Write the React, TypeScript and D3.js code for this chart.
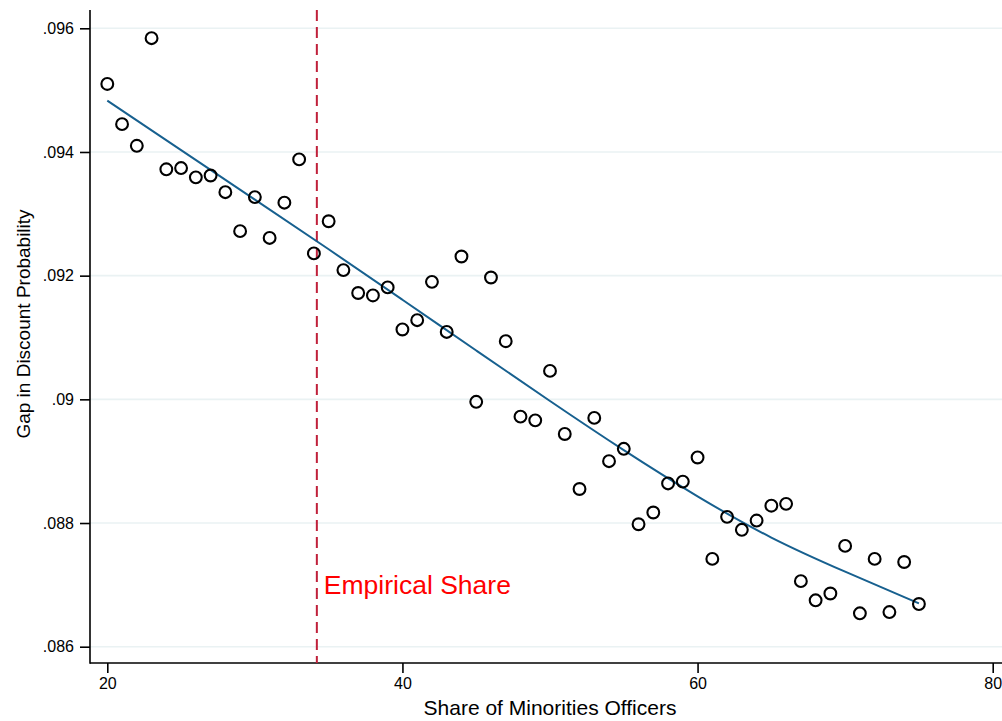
import React, { useEffect, useRef } from 'react';
import * as d3 from 'd3';

// share of minority officers (%)
const shares = [20, 21, 22, 23, 24, 25, 26, 27, 28, 29, 30, 31, 32, 33, 34, 35, 36, 37, 38, 39, 40, 41, 42, 43, 44, 45, 46, 47, 48, 49, 50, 51, 52, 53, 54, 55, 56, 57, 58, 59, 60, 61, 62, 63, 64, 65, 66, 67, 68, 69, 70, 71, 72, 73, 74, 75];
const gaps = [
  0.09510, 0.09445, 0.09410, 0.09584, 0.09372, 0.09374, 0.09359, 0.09362, 0.09335, 0.09272,
  0.09327, 0.09261, 0.09318, 0.09388, 0.09236, 0.09288, 0.09209, 0.09172, 0.09168, 0.09181,
  0.09113, 0.09128, 0.09190, 0.09109, 0.09231, 0.08996, 0.09197, 0.09094, 0.08972, 0.08966,
  0.09046, 0.08944, 0.08855, 0.08970, 0.08900, 0.08920, 0.08798, 0.08817, 0.08864, 0.08867,
  0.08906, 0.08742, 0.08810, 0.08789, 0.08804, 0.08828, 0.08831, 0.08706, 0.08675, 0.08686,
  0.08763, 0.08654, 0.08742, 0.08656, 0.08737, 0.08669,
];

// smoothed fit
const fitShares = [20, 25, 30, 35, 40, 45, 50, 55, 60, 65, 70, 75];
const fitGaps = [0.09483, 0.09403, 0.09323, 0.09243, 0.09161, 0.09079, 0.08997, 0.08917, 0.08842, 0.08774, 0.08721, 0.08670];

const empiricalShare = 34.2;
const xTicks = [20, 40, 60, 80];
const yTicks = [0.086, 0.088, 0.09, 0.092, 0.094, 0.096];

const W = 1002;
const H = 721;

const App = () => {
  const ref = useRef(null);

  useEffect(() => {
    const svg = d3.select(ref.current);
    svg.selectAll('*').remove();

    const axisX = 90; // left axis line
    const axisY = 663; // bottom axis line
    const font = '"Liberation Sans", Arial, Helvetica, sans-serif';

    const x = d3.scaleLinear().domain([20, 80]).range([107.3, 992.7]);
    const y = d3.scaleLinear().domain([0.086, 0.096]).range([646.7, 28.3]);

    // gridlines
    svg.append('g')
      .selectAll('line')
      .data(yTicks)
      .enter().append('line')
      .attr('x1', axisX)
      .attr('x2', W)
      .attr('y1', d => y(d))
      .attr('y2', d => y(d))
      .attr('stroke', '#eaf2f3')
      .attr('stroke-width', 1.6);

    // y axis
    const fmt = (d: number) => d3.format('.3f')(d).replace(/^0/, '').replace(/0$/, '');
    const yAxis = svg.append('g')
      .attr('transform', `translate(${axisX},0)`)
      .call(d3.axisLeft(y).tickValues(yTicks).tickSize(10).tickPadding(6).tickFormat(fmt as any));
    yAxis.select('.domain').remove();
    yAxis.selectAll('line').attr('stroke', '#000').attr('stroke-width', 1.6);
    yAxis.selectAll('text').attr('font-family', font).attr('font-size', 16).attr('fill', '#000');

    // x axis
    const xAxis = svg.append('g')
      .attr('transform', `translate(0,${axisY})`)
      .call(d3.axisBottom(x).tickValues(xTicks).tickSize(10).tickPadding(5).tickFormat(d3.format('d') as any));
    xAxis.select('.domain').remove();
    xAxis.selectAll('line').attr('stroke', '#000').attr('stroke-width', 1.6);
    xAxis.selectAll('text').attr('font-family', font).attr('font-size', 16).attr('fill', '#000');

    // axis lines
    svg.append('line')
      .attr('x1', axisX).attr('x2', axisX)
      .attr('y1', 10).attr('y2', axisY + 0.8)
      .attr('stroke', '#000').attr('stroke-width', 1.6);
    svg.append('line')
      .attr('x1', axisX).attr('x2', W)
      .attr('y1', axisY).attr('y2', axisY)
      .attr('stroke', '#000').attr('stroke-width', 1.6);

    // empirical share marker
    svg.append('line')
      .attr('x1', x(empiricalShare)).attr('x2', x(empiricalShare))
      .attr('y1', 10).attr('y2', axisY)
      .attr('stroke', '#c0203a')
      .attr('stroke-width', 2)
      .attr('stroke-dasharray', '11,6');
    svg.append('text')
      .attr('x', x(empiricalShare) + 7)
      .attr('y', 594)
      .attr('font-family', font)
      .attr('font-size', 26.5)
      .attr('fill', '#ff0000')
      .text('Empirical Share');

    // fit line
    const line = d3.line<number>()
      .x((d, i) => x(fitShares[i]))
      .y(d => y(d))
      .curve(d3.curveBasis);
    svg.append('path')
      .datum(fitGaps)
      .attr('d', line)
      .attr('fill', 'none')
      .attr('stroke', '#17608f')
      .attr('stroke-width', 2);

    // binned points
    svg.append('g')
      .selectAll('circle')
      .data(gaps)
      .enter().append('circle')
      .attr('cx', (d, i) => x(shares[i]))
      .attr('cy', d => y(d))
      .attr('r', 5.9)
      .attr('fill', 'none')
      .attr('stroke', '#000')
      .attr('stroke-width', 2.1);

    // axis titles
    svg.append('text')
      .attr('x', 550)
      .attr('y', 715)
      .attr('text-anchor', 'middle')
      .attr('font-family', font)
      .attr('font-size', 21)
      .attr('fill', '#000')
      .text('Share of Minorities Officers');
    svg.append('text')
      .attr('transform', 'translate(30,324) rotate(-90)')
      .attr('text-anchor', 'middle')
      .attr('font-family', font)
      .attr('font-size', 19)
      .attr('fill', '#000')
      .text('Gap in Discount Probability');
  }, []);

  return (
    <svg ref={ref} width={W} height={H} style={{ position: 'absolute', left: 0, top: 0, background: '#fff' }} />
  );
};

export default App;
